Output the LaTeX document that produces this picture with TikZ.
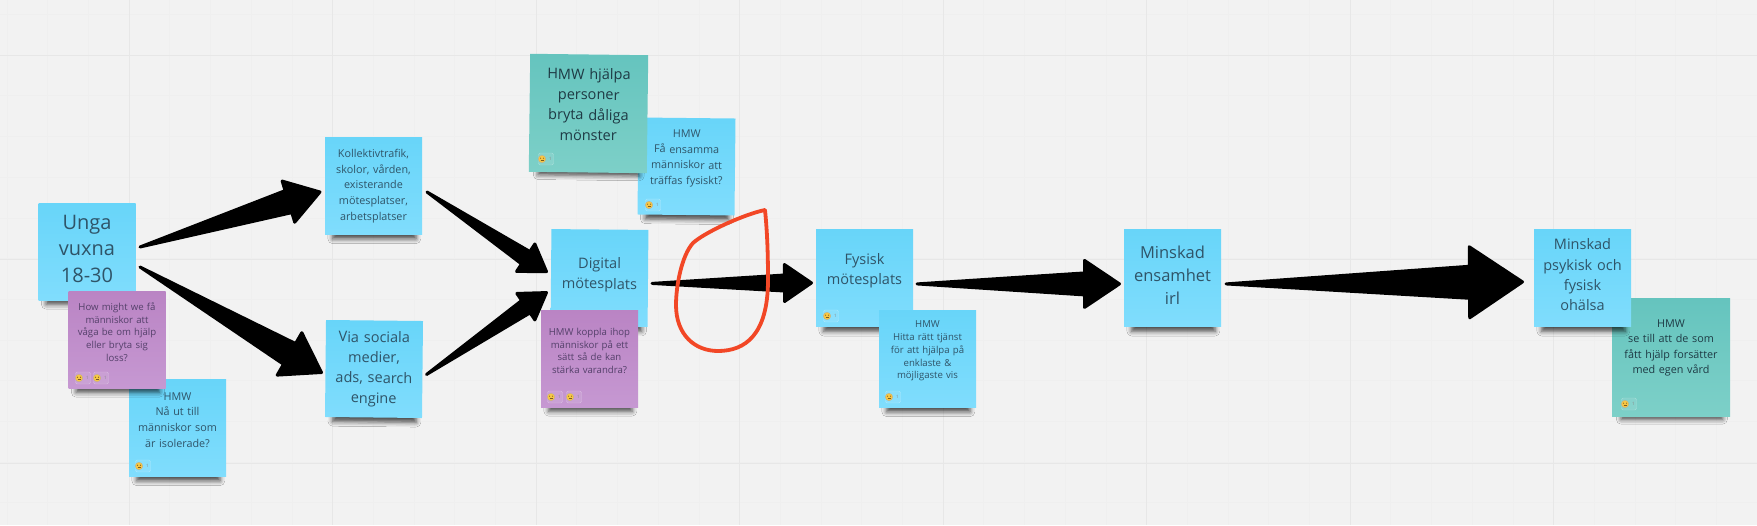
\documentclass[tikz,border=0pt]{standalone}
\usepackage{fontspec}
\setmainfont{Open Sans}
\usetikzlibrary{positioning,calc,shadows.blur}
\definecolor{boardBg}{HTML}{F2F2F2}
\definecolor{gridMajor}{HTML}{E7E7E7}
\definecolor{gridMinor}{HTML}{EFEFEF}
\definecolor{blueTop}{HTML}{68D5F9}
\definecolor{blueBottom}{HTML}{80DDFD}
\definecolor{tealTop}{HTML}{65C4BE}
\definecolor{tealBottom}{HTML}{7DD0C8}
\definecolor{purpleTop}{HTML}{BA84C4}
\definecolor{purpleBottom}{HTML}{C698D2}
\definecolor{blueInk}{HTML}{2F5468}
\definecolor{tealInk}{HTML}{1E3A44}
\definecolor{purpleInk}{HTML}{54406A}
\definecolor{loopRed}{HTML}{F24726}
\definecolor{emojiYellow}{HTML}{F7C744}
\definecolor{emojiInk}{HTML}{7A5A20}
\tikzset{
  note/.style={inner sep=0pt,outer sep=0pt,minimum size=#1,text width=#1,align=center,
    blur shadow={shadow xshift=1pt,shadow yshift=-13pt,shadow scale=0.86,shadow opacity=70,shadow blur radius=5.5pt}},
  note/.default=97pt,
  textup/.style={execute at end node={\par\vspace{#1}}},
  bluenote/.style={note=#1,top color=blueTop,bottom color=blueBottom,text=blueInk},
  bluenote/.default=97pt,
  tealnote/.style={note=#1,top color=tealTop,bottom color=tealBottom,text=tealInk},
  tealnote/.default=118pt,
  purplenote/.style={note=#1,top color=purpleTop,bottom color=purpleBottom,text=purpleInk},
  purplenote/.default=97pt,
  hugetext/.style={font=\fontsize{20}{26.5}\selectfont},
  bigtext/.style={font=\fontsize{16.5}{23}\selectfont},
  midtext/.style={font=\fontsize{14.5}{20.3}\selectfont},
  smalltext/.style={font=\fontsize{10.8}{15.6}\selectfont},
  tinytext/.style={font=\fontsize{9.6}{12.8}\selectfont},
  fatline/.style={fill=black,draw=black,line width=3pt,line join=round},
  loopline/.style={draw=loopRed,line width=3.8pt,line join=round,line cap=round},
  emojiface/.style={circle,fill=emojiYellow,draw=emojiInk!50,line width=.3pt,minimum size=7.5pt,inner sep=0pt},
  emojichip/.style={rounded corners=1.5pt,draw=white,draw opacity=.3,line width=.4pt,fill=white,fill opacity=.1,minimum width=15pt,minimum height=12pt,inner sep=0pt},
  emojicount/.style={font=\fontsize{4.5}{5}\selectfont,text=black!45,inner sep=0pt},
}
% from, to, half stem, head length, half head
\newcommand{\fatarrow}[5]{
  \coordinate (tailPt) at #1;
  \coordinate (tipPt) at #2;
  \draw[fatline] (tailPt)
    -- ($(tipPt)!#4pt!(tailPt)!#3pt!90:(tipPt)$)
    -- ($(tipPt)!#4pt!(tailPt)!#5pt!90:(tipPt)$)
    -- (tipPt)
    -- ($(tipPt)!#4pt!(tailPt)!#5pt!-90:(tipPt)$)
    -- ($(tipPt)!#4pt!(tailPt)!#3pt!-90:(tipPt)$)
    -- cycle;
}
% name, position
\newcommand{\reaction}[2]{
  \node[emojichip] (#1Chip) at ([xshift=4pt]#2) {};
  \node[emojiface] (#1) at (#2) {};
  \node[emojicount,right=3pt of #1] (#1Count) {1};
  \fill[emojiInk] ([shift={(-1.5,-.8)}]#1.center) circle (.55pt) ([shift={(1.5,-.8)}]#1.center) circle (.55pt);
  \draw[emojiInk,line width=.5pt] ([shift={(-1.5,1.5)}]#1.center) -- ([shift={(1.5,1.5)}]#1.center);
}
\begin{document}
\begin{tikzpicture}[x=1pt,y=-1pt]
\fill[boardBg,use as bounding box] (0,0) rectangle (1757,525);
%the grid
\foreach \k in {0,...,43}{
  \draw[gridMinor,line width=.6pt] ({6.9+\k*40.7},0) -- ({6.9+\k*40.7},525);
}
\foreach \k in {0,...,12}{
  \draw[gridMinor,line width=.6pt] (0,{14.3+\k*40.7}) -- (1757,{14.3+\k*40.7});
}
\foreach \k in {0,...,7}{
  \draw[gridMajor,line width=1pt] ({129+\k*203.5},0) -- ({129+\k*203.5},525);
}
\foreach \k in {0,...,2}{
  \draw[gridMajor,line width=1pt] (0,{55+\k*204}) -- (1757,{55+\k*204});
}
%the nodes
\node [bluenote,hugetext,textup=6pt] (unga) at (87,251.5) {Unga\\vuxna\\18-30};
\node [bluenote,smalltext,textup=16pt] (isolerade) at (177.5,428) {HMW\\Nå ut till\\människor som\\är isolerade?};
\node [purplenote,tinytext,textup=15pt] (vaga) at (117,339.5) {How might we få\\människor att\\våga be om hjälp\\eller bryta sig\\loss?};
\node [bluenote,smalltext] (kollektiv) at (373.5,186) {Kollektivtrafik,\\skolor, vården,\\existerande\\mötesplatser,\\arbetsplatser};
\node [bluenote,midtext,rotate=-.6] (sociala) at (374,369) {Via sociala\\medier,\\ads, search\\engine};
\node [bluenote,smalltext,textup=16pt,rotate=-.6] (ensamma) at (686.5,166.5) {HMW\\Få ensamma\\människor att\\träffas fysiskt?};
\node [tealnote,midtext,textup=18pt,rotate=-.7] (monster) at (588.5,113.5) {HMW hjälpa\\personer\\bryta dåliga\\mönster};
\node [bluenote,midtext,textup=6pt,rotate=-.5] (digital) at (599.5,278) {Digital\\mötesplats};
\node [purplenote,tinytext,textup=15pt] (koppla) at (589.5,358.5) {HMW koppla ihop\\människor på ett\\sätt så de kan\\stärka varandra?};
\node [bluenote,midtext,textup=16pt,right=168pt of digital] (fysisk) {Fysisk\\mötesplats};
\node [bluenote,tinytext,textup=16pt] (tjanst) at (927.5,359) {HMW\\Hitta rätt tjänst\\för att hjälpa på\\enklaste \&\\möjligaste vis};
\node [bluenote,bigtext,textup=6pt,right=211pt of fysisk] (ensamhet) {Minskad\\ensamhet\\irl};
\node [tealnote,smalltext,textup=19pt] (egenvard) at (1671,357.5) {HMW\\se till att de som\\fått hjälp forsätter\\med egen vård};
\node [bluenote,midtext,textup=7pt,right=313pt of ensamhet] (ohalsa) {Minskad\\psykisk och\\fysisk\\ohälsa};
%the reactions
\reaction{faceVagaA}{79,378}
\reaction{faceVagaB}{97,378}
\reaction{faceIsolerade}{139,466}
\reaction{faceMonster}{542,159}
\reaction{faceEnsamma}{649,205}
\reaction{faceFysisk}{827,316}
\reaction{faceKopplaA}{551,397}
\reaction{faceKopplaB}{570,397}
\reaction{faceTjanst}{889,397}
\reaction{faceEgenvard}{1625,404}
%drawings of arrows
\fatarrow{([shift={(4.5,-4.5)}]unga.east)}{([shift={(-5,6)}]kollektiv.west)}{11.5}{33}{21.5}
\fatarrow{([shift={(4.5,15.5)}]unga.east)}{([shift={(-4,4)}]sociala.west)}{12}{37}{24.5}
\fatarrow{([shift={(5,6)}]kollektiv.east)}{([shift={(-4.5,-6)}]digital.west)}{7.5}{25}{16.5}
\fatarrow{([shift={(4,5)}]sociala.east)}{([shift={(-4.5,15)}]digital.west)}{7.5}{25}{16}
\fatarrow{([shift={(4,5)}]digital.east)}{([shift={(-4.5,4.5)}]fysisk.west)}{8}{27}{18.5}
\fatarrow{([shift={(4,5.5)}]fysisk.east)}{([shift={(-4.5,5.5)}]ensamhet.west)}{11}{35}{23.5}
\fatarrow{([shift={(5,5.5)}]ensamhet.east)}{([shift={(-11.5,3.5)}]ohalsa.west)}{16}{53}{35.5}
%the red circle
\draw[loopline] (765,210) .. controls (745,214) and (705,232) .. (693,243)
  .. controls (682,255) and (676,285) .. (676,305)
  .. controls (676,335) and (695,351) .. (718,351)
  .. controls (745,351) and (768,335) .. (768,280)
  .. controls (768,250) and (767,230) .. (765,210);
\end{tikzpicture}
\end{document}
